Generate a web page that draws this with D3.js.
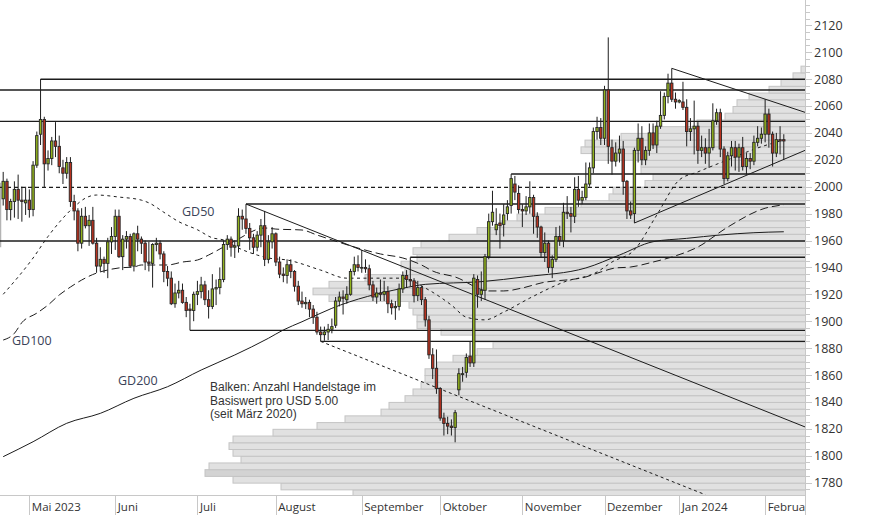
<!DOCTYPE html>
<html><head><meta charset="utf-8">
<script src="https://cdn.jsdelivr.net/npm/d3@7"></script>
<style>
body{margin:0;background:#fff;}
svg{display:block;font-family:"Open Sans",sans-serif;}
</style></head><body>
<svg id="c" width="874" height="515"></svg>
<script>
// ---------- DATA ----------
const dates = [
"2023-04-20","2023-04-21","2023-04-24","2023-04-25","2023-04-26","2023-04-27","2023-04-28",
"2023-05-01","2023-05-02","2023-05-03","2023-05-04","2023-05-05","2023-05-08","2023-05-09","2023-05-10","2023-05-11","2023-05-12","2023-05-15","2023-05-16","2023-05-17","2023-05-18","2023-05-19","2023-05-22","2023-05-23","2023-05-24","2023-05-25","2023-05-26","2023-05-29","2023-05-30","2023-05-31",
"2023-06-01","2023-06-02","2023-06-05","2023-06-06","2023-06-07","2023-06-08","2023-06-09","2023-06-12","2023-06-13","2023-06-14","2023-06-15","2023-06-16","2023-06-19","2023-06-20","2023-06-21","2023-06-22","2023-06-23","2023-06-26","2023-06-27","2023-06-28","2023-06-29","2023-06-30",
"2023-07-03","2023-07-04","2023-07-05","2023-07-06","2023-07-07","2023-07-10","2023-07-11","2023-07-12","2023-07-13","2023-07-14","2023-07-17","2023-07-18","2023-07-19","2023-07-20","2023-07-21","2023-07-24","2023-07-25","2023-07-26","2023-07-27","2023-07-28","2023-07-31",
"2023-08-01","2023-08-02","2023-08-03","2023-08-04","2023-08-07","2023-08-08","2023-08-09","2023-08-10","2023-08-11","2023-08-14","2023-08-15","2023-08-16","2023-08-17","2023-08-18","2023-08-21","2023-08-22","2023-08-23","2023-08-24","2023-08-25","2023-08-28","2023-08-29","2023-08-30","2023-08-31",
"2023-09-01","2023-09-04","2023-09-05","2023-09-06","2023-09-07","2023-09-08","2023-09-11","2023-09-12","2023-09-13","2023-09-14","2023-09-15","2023-09-18","2023-09-19","2023-09-20","2023-09-21","2023-09-22","2023-09-25","2023-09-26","2023-09-27","2023-09-28","2023-09-29",
"2023-10-02","2023-10-03","2023-10-04","2023-10-05","2023-10-06","2023-10-09","2023-10-10","2023-10-11","2023-10-12","2023-10-13","2023-10-16","2023-10-17","2023-10-18","2023-10-19","2023-10-20","2023-10-23","2023-10-24","2023-10-25","2023-10-26","2023-10-27","2023-10-30","2023-10-31",
"2023-11-01","2023-11-02","2023-11-03","2023-11-06","2023-11-07","2023-11-08","2023-11-09","2023-11-10","2023-11-13","2023-11-14","2023-11-15","2023-11-16","2023-11-17","2023-11-20","2023-11-21","2023-11-22","2023-11-23","2023-11-24","2023-11-27","2023-11-28","2023-11-29","2023-11-30",
"2023-12-01","2023-12-04","2023-12-05","2023-12-06","2023-12-07","2023-12-08","2023-12-11","2023-12-12","2023-12-13","2023-12-14","2023-12-15","2023-12-18","2023-12-19","2023-12-20","2023-12-21","2023-12-22","2023-12-26","2023-12-27","2023-12-28","2023-12-29",
"2024-01-01","2024-01-02","2024-01-03","2024-01-04","2024-01-05","2024-01-08","2024-01-09","2024-01-10","2024-01-11","2024-01-12","2024-01-15","2024-01-16","2024-01-17","2024-01-18","2024-01-19","2024-01-22","2024-01-23","2024-01-24","2024-01-25","2024-01-26","2024-01-29","2024-01-30","2024-01-31",
"2024-02-01","2024-02-02","2024-02-05","2024-02-06","2024-02-07","2024-02-08"];

const open = [
1991,2004,1983,1989,1998,1990,1988,
1990,1983,2016,2039,2050,2017,2021,2034,2030,2014,2010,2018,1989,1982,1958,1978,1971,1975,1958,1941,1946,1943,1959,
1963,1978,1948,1961,1963,1941,1965,1961,1958,1944,1943,1957,1958,1950,1937,1932,1913,1921,1923,1914,1909,1908,
1920,1922,1927,1916,1911,1924,1925,1931,1957,1961,1955,1956,1978,1976,1969,1962,1955,1964,1971,1946,1959,
1965,1944,1935,1934,1942,1937,1926,1915,1913,1914,1909,1903,1892,1890,1892,1894,1897,1915,1918,1916,1920,1937,1942,
1940,1940,1939,1927,1918,1921,1920,1922,1913,1910,1911,1924,1934,1931,1930,1919,1925,1916,1901,1875,1865,
1850,1828,1824,1822,1821,1849,1861,1862,1874,1869,1931,1920,1923,1948,1974,1968,1973,1972,1980,1986,2002,1995,
1983,1982,1985,1992,1978,1970,1951,1958,1940,1946,1963,1960,1981,1980,1978,1998,1990,1992,2002,2014,2041,2044,
2036,2072,2029,2019,2025,2028,2004,1982,1980,2027,2036,2020,2027,2040,2031,2045,2053,2067,2077,2065,
2063,2063,2059,2041,2043,2045,2027,2029,2025,2029,2049,2055,2028,2006,2023,2029,2022,2029,2015,2021,2019,2033,2036,
2039,2054,2039,2025,2035,2035];
const high = [
2011,2006,1991,2004,2009,2000,2000,
1998,2019,2041,2080,2052,2027,2037,2048,2038,2020,2022,2022,1994,1984,1984,1985,1979,1985,1962,1955,1948,1962,1970,
1983,1983,1964,1967,1965,1966,1971,1963,1960,1959,1958,1962,1960,1952,1941,1937,1928,1930,1928,1918,1913,1922,
1930,1933,1930,1923,1935,1931,1940,1960,1964,1963,1960,1984,1983,1987.1,1973,1965,1967,1976,1982,1964,1970,
1966,1948,1940,1946,1946,1938,1930,1922,1918,1916,1912,1907,1896,1896,1898,1902,1918,1922,1923,1926,1939,1948,1949,
1953,1946,1942,1930,1925,1931,1930,1926,1916,1915,1928,1937,1938,1947.5,1932,1930,1926,1918,1904,1880,1879,
1851,1832,1829,1827,1834,1865,1866,1876,1885,1935,1934,1937,1950,1980,1997,1984,1980,1987,1990,2009.4,2008,2001,
1987,1993,2004,1994,1981,1971,1966,1960,1949,1970,1971,1988,1993,1985,2007,2008,1997,2018,2018,2044,2052,2051,
2075,2111,2035,2033,2038,2034,2005,1989,2029,2047,2045,2030,2047,2047,2049,2071,2070,2084,2088,2070,
2065,2078,2065,2051,2064,2048,2038,2036,2043,2062,2058,2058,2030,2026,2034,2034,2032,2037,2025,2025,2038,2045,2044,
2065,2058,2041,2040,2045,2039];
const low = [
1986,1975,1975,1977,1976,1974,1979,
1977,1978,2014,2031,1999.5,2012,2016,2022,2010,2002,2006,1985,1975,1952,1954,1969,1956,1957,1936,1937,1936,1932,1950,
1953,1947,1938,1954,1940,1937,1952,1950,1938,1937,1925,1952,1946,1929,1926,1912,1910,1917,1913,1903,1893.2,1900,
1912,1917,1912,1902,1909,1912,1920,1929,1953,1948,1947,1951,1968,1965,1953,1950,1952,1955,1941,1943,1954,
1941,1932,1929,1928,1932,1922,1912,1910,1909,1903,1898,1890,1885,1885.5,1886,1891,1895,1911,1905,1913,1919,1934,1937,
1936,1936,1923,1915,1913,1915,1915,1906,1905,1901,1908,1921,1925,1926,1914,1915,1912,1896,1872,1857,1846,
1826,1815,1816,1815,1810,1845,1855,1858,1866,1866,1910,1915,1916,1946,1971,1964,1954,1963,1975,1980,1990,1980,
1970,1979,1980,1965,1962,1947,1944,1936,1932,1944,1956,1955,1976,1966,1973,1985,1987,1990,2000,2010,2035,2031,
2031,2017,2009,2015,2018,1994,1976,1976,1973,2018,2016,2016,2023,2028,2025,2043,2050,2062,2063,2058,
2062,2057,2030,2034,2024,2017,2022,2017,2014,2027,2046,2022,2002,2004,2015,2012,2011,2012,2009,2013,2016,2030,2032,
2033,2029,2015,2022,2024,2020];
const close = [
2004,1983,1989,1998,1990,1989,1990,
1983,2016,2038,2050,2017,2021,2034,2030,2015,2010,2018,1989,1982,1958,1978,1971,1975,1958,1941,1946,1943,1959,1963,
1978,1948,1961,1963,1941,1965,1961,1958,1944,1943,1957,1958,1950,1937,1932,1913,1921,1923,1914,1908,1908,1920,
1922,1927,1916,1911,1924,1925,1931,1957,1961,1955,1956,1978,1976,1969,1962,1955,1964,1971,1946,1959,1965,
1944,1935,1934,1942,1937,1926,1915,1913,1914,1909,1903,1892,1890,1892,1894,1896,1915,1918,1917,1920,1937,1942,1940,
1940,1939,1927,1918,1921,1920,1922,1913,1910,1911,1924,1934,1931,1930,1919,1925,1916,1901,1875,1865,1850,
1828,1824,1822,1821,1832,1861,1861,1873,1869,1932,1920,1923,1948,1974,1981,1972,1971,1979,1985,2006,1996,1983,
1982,1985,1992,1978,1970,1951,1958,1940,1946,1963,1960,1981,1980,1978,1998,1990,1992,2002,2014,2041,2044,2036,
2072,2030,2019,2025,2028,2004,1982,1979,2027,2036,2020,2027,2040,2031,2045,2053,2067,2077,2065,2063,
2064,2059,2041,2043,2045,2027,2029,2025,2029,2049,2055,2028,2006,2023,2029,2022,2029,2015,2021,2019,2033,2036,2039,
2054,2039,2025,2035,2034,2034];

// moving averages: [date, value]
const gd50 = [["2023-04-20",1920],["2023-05-02",1947],["2023-05-08",1963],["2023-05-17",1985],["2023-05-22",1991.5],["2023-05-25",1993.8],["2023-06-02",1992.3],["2023-06-12",1990],["2023-06-14",1988],["2023-06-20",1981],["2023-06-26",1974],["2023-07-03",1968],["2023-07-07",1962],["2023-07-12",1960.4],["2023-07-18",1954.4],["2023-07-25",1949.2],["2023-07-28",1947],["2023-08-04",1945.5],["2023-08-17",1938],["2023-08-28",1932],["2023-09-18",1932],["2023-09-26",1924.7],["2023-10-05",1912],["2023-10-11",1903],["2023-10-18",1901],["2023-10-25",1906.8],["2023-11-03",1917.2],["2023-11-16",1929],["2023-11-29",1936.6],["2023-12-05",1944],["2023-12-13",1953],["2023-12-21",1979],["2024-01-01",2005],["2024-01-08",2011],["2024-01-18",2020],["2024-01-30",2028.8],["2024-02-08",2034.7]];
const gd100 = [["2023-04-20",1886],["2023-04-25",1891],["2023-04-27",1899],["2023-05-03",1906],["2023-05-08",1912],["2023-05-11",1919.5],["2023-05-16",1925.4],["2023-05-19",1930.6],["2023-05-25",1935.8],["2023-05-30",1938.1],["2023-06-02",1939.6],["2023-06-08",1940.3],["2023-06-12",1941.8],["2023-06-21",1941.8],["2023-06-27",1944],["2023-07-03",1945.5],["2023-07-06",1949.2],["2023-07-12",1955.2],["2023-07-17",1959.6],["2023-07-27",1969.3],["2023-08-01",1968.5],["2023-08-10",1967.8],["2023-08-16",1964.1],["2023-08-31",1954.4],["2023-09-08",1950],["2023-09-18",1947],["2023-09-25",1941.8],["2023-09-28",1937.3],["2023-10-06",1932.9],["2023-10-19",1922.5],["2023-10-25",1922.5],["2023-11-01",1924.7],["2023-11-08",1928.4],["2023-11-24",1932.9],["2023-11-30",1936.6],["2023-12-06",1939.6],["2023-12-12",1940.3],["2023-12-20",1944],["2023-12-28",1947.7],["2024-01-08",1955.2],["2024-01-18",1970],["2024-02-01",1984],["2024-02-08",1986.5]];
const gd200 = [["2023-04-20",1799.3],["2023-05-02",1810.4],["2023-05-15",1824.1],["2023-05-26",1831.5],["2023-06-08",1842.7],["2023-06-21",1851.3],["2023-07-04",1863.7],["2023-07-17",1874.9],["2023-07-28",1887.3],["2023-08-03",1893.5],["2023-08-10",1899.6],["2023-08-22",1909.6],["2023-09-18",1924.5],["2023-09-26",1927.4],["2023-10-17",1929.4],["2023-11-02",1933.1],["2023-11-24",1939.6],["2023-12-07",1949.2],["2023-12-20",1959.1],["2024-01-03",1961.6],["2024-01-16",1964.1],["2024-01-29",1965.8],["2024-02-08",1966.5]];

// horizontal support / resistance levels: [price, start date (null = left edge), dashed]
const levels = [[2079.9,"2023-05-04",false],[2071.9,null,false],[2048.6,null,false],[2009.4,"2023-10-27",false],[1999.5,null,true],[1987.1,"2023-07-20",false],[1959.6,null,false],[1947.5,"2023-09-20",false],[1893.2,"2023-06-29",false],[1885,"2023-08-17",false]];
// trend lines: two anchors [date, price]; extended to the right edge
const trends = [
  {a:["2023-07-20",1987.1], b:["2024-02-08",1827.7], dashed:false},
  {a:["2023-08-17",1885], b:["2024-01-10",1771], dashed:true},
  {a:["2023-12-28",2088], b:["2024-02-08",2060.5], dashed:false},
  {a:["2023-12-13",1973], b:["2024-02-08",2020.3], dashed:false}];

// volume-at-price profile: number of trading days per USD 5 bucket (bucket lower bound)
const profilePrice = [1770,1775,1780,1785,1790,1795,1800,1805,1810,1815,1820,1825,1830,1835,1840,1845,1850,1855,1860,1865,1870,1875,1880,1885,1890,1895,1900,1905,1910,1915,1920,1925,1930,1935,1940,1945,1950,1955,1960,1965,1970,1975,1980,1985,1990,1995,2000,2005,2010,2015,2020,2025,2030,2035,2040,2045,2050,2055,2060,2065,2070,2075,2080,2085];
const profileDays = [113,131,143,150,149,141,143,144,143,133,122,115,106,104,100,98,96,95,95,92,88,82,78,83,91,97,97,98,99,119,123,119,110,100,101,97,98,96,89,82,76,72,65,56,49,48,40,38,41,41,53,56,55,46,38,27,20,18,17,14,9,6,3,1];
const profileHighlight = 1785;

const yTicks = [1780,1800,1820,1840,1860,1880,1900,1920,1940,1960,1980,2000,2020,2040,2060,2080,2100,2120];
const monthStarts = ["2023-05-01","2023-06-01","2023-07-03","2023-08-01","2023-09-01","2023-10-02","2023-11-01","2023-12-01","2024-01-01","2024-02-01"];
const monthLabels = ["Mai 2023","Juni","Juli","August","September","Oktober","November","Dezember","Jan 2024","Februar"];
const maLabels = [["GD50",182,216],["GD100",12,345],["GD200",118,385]];
const note = ["Balken: Anzahl Handelstage im","Basiswert pro USD 5.00","(seit März 2020)"];

// ---------- CHART ----------
const svg = d3.select("#c");
const R = 805, B = 495;
const n = dates.length;
const xi = d3.scaleLinear().domain([0, n-1]).range([3.2, 783.8]);
const xd = d => xi(dates.indexOf(d));
const y = d3.scaleLinear().domain([1770.8, 2138.8]).range([B, 0]);
const xc = d3.scaleLinear().domain([0, 200]).range([R, R-800]);

svg.append("defs").append("clipPath").attr("id","pc").append("rect").attr("x",0).attr("y",0).attr("width",R).attr("height",B);
const g = svg.append("g").attr("clip-path","url(#pc)");

// profile bars
g.append("g").selectAll("rect").data(profilePrice).join("rect")
  .attr("x",(p,i)=>xc(profileDays[i]))
  .attr("y",p=>y(p+5)+0.5)
  .attr("width",(p,i)=>R-xc(profileDays[i])+2)
  .attr("height",p=>y(p)-y(p+5))
  .attr("fill",p=>p===profileHighlight?"#d3d3d3":"#e1e1e1")
  .attr("stroke","#c4c4c4").attr("stroke-width",1);

// thin grey mark at the left edge (as in the reference)
g.append("line").attr("x1",0.5).attr("x2",0.5).attr("y1",y(2003)).attr("y2",y(1955))
  .attr("stroke","#b4b4b4").attr("stroke-width",1.5);

// horizontal levels
g.append("g").selectAll("line").data(levels).join("line")
  .attr("x1",d=>d[1]?xd(d[1]):0).attr("x2",R)
  .attr("y1",d=>y(d[0])).attr("y2",d=>y(d[0]))
  .attr("stroke","#1c1c1c").attr("stroke-width",1.4)
  .attr("stroke-dasharray",d=>d[2]?"4,3":null);

// trend lines
g.append("g").selectAll("line").data(trends).join("line")
  .each(function(t){
    const x1=xd(t.a[0]), y1=y(t.a[1]), x2=xd(t.b[0]), y2=y(t.b[1]);
    const s=(y2-y1)/(x2-x1);
    const xe = t.dashed ? x2 : R;
    d3.select(this).attr("x1",x1).attr("y1",y1).attr("x2",xe).attr("y2",y1+s*(xe-x1));
  })
  .attr("stroke","#1c1c1c").attr("stroke-width",1)
  .attr("stroke-dasharray",t=>t.dashed?"3,3":null);

// moving averages
const line = d3.line().x(d=>xd(d[0])).y(d=>y(d[1])).curve(d3.curveMonotoneX);
g.append("path").attr("d",line(gd200)).attr("fill","none").attr("stroke","#1c1c1c").attr("stroke-width",1);
g.append("path").attr("d",line(gd100)).attr("fill","none").attr("stroke","#1c1c1c").attr("stroke-width",1).attr("stroke-dasharray","8,4");
g.append("path").attr("d",line(gd50)).attr("fill","none").attr("stroke","#1c1c1c").attr("stroke-width",1).attr("stroke-dasharray","3,3.5");

// candles
const idx = d3.range(n);
const cg = g.append("g");
cg.selectAll("line").data(idx).join("line")
  .attr("x1",i=>xi(i)).attr("x2",i=>xi(i))
  .attr("y1",i=>y(high[i])).attr("y2",i=>y(low[i]))
  .attr("stroke","#1e1e1e").attr("stroke-width",1);
const bw = 2.4;
cg.selectAll("rect").data(idx).join("rect")
  .attr("x",i=>xi(i)-bw/2)
  .attr("y",i=>y(Math.max(open[i],close[i])))
  .attr("width",bw)
  .attr("height",i=>Math.max(0.8,Math.abs(y(open[i])-y(close[i]))))
  .attr("fill",i=>close[i]>=open[i]?"#92b31d":"#b8321f")
  .attr("stroke","#262626").attr("stroke-width",0.9);

// labels inside plot
svg.append("g").selectAll("text").data(maLabels).join("text")
  .attr("x",d=>d[1]).attr("y",d=>d[2]).text(d=>d[0])
  .attr("font-size",12.5).attr("fill","#3a4258");
const noteText = svg.append("text").attr("x",210).attr("y",391)
  .attr("font-family","'Liberation Sans',Arial,sans-serif")
  .attr("font-size",12).attr("fill","#333");
noteText.selectAll("tspan").data(note).join("tspan")
  .attr("x",210).attr("dy",(d,i)=>i===0?0:13.6).text(d=>d);

// right axis
const ax = svg.append("g");
ax.append("line").attr("x1",R+0.5).attr("x2",R+0.5).attr("y1",0).attr("y2",515).attr("stroke","#c8c8c8");
ax.append("line").attr("x1",0).attr("x2",R).attr("y1",B+0.5).attr("y2",B+0.5).attr("stroke","#c8c8c8");
const minor = d3.range(1775, 2140, 5);
ax.selectAll("line.t").data(minor).join("line").attr("class","t")
  .attr("x1",R).attr("x2",d=>R+(d%20===0?7:5))
  .attr("y1",d=>Math.round(y(d))+0.5).attr("y2",d=>Math.round(y(d))+0.5)
  .attr("stroke","#c8c8c8");
ax.selectAll("text").data(yTicks).join("text")
  .attr("x",814).attr("y",d=>y(d)).attr("dy","0.36em")
  .attr("font-size",12.5).attr("fill","#333").text(d=>d);

// bottom month axis
const mx = svg.append("g");
mx.selectAll("line").data(monthStarts).join("line")
  .attr("x1",d=>Math.round(xd(d))+0.5).attr("x2",d=>Math.round(xd(d))+0.5)
  .attr("y1",B).attr("y2",515).attr("stroke","#c8c8c8");
svg.append("defs").append("clipPath").attr("id","mc").append("rect").attr("x",0).attr("y",B).attr("width",R).attr("height",20);
mx.append("g").attr("clip-path","url(#mc)").selectAll("text").data(monthStarts).join("text")
  .attr("x",d=>xd(d)+2.5).attr("y",511).text((d,i)=>monthLabels[i])
  .attr("font-size",11.5).attr("fill","#333");
</script>
</body></html>
